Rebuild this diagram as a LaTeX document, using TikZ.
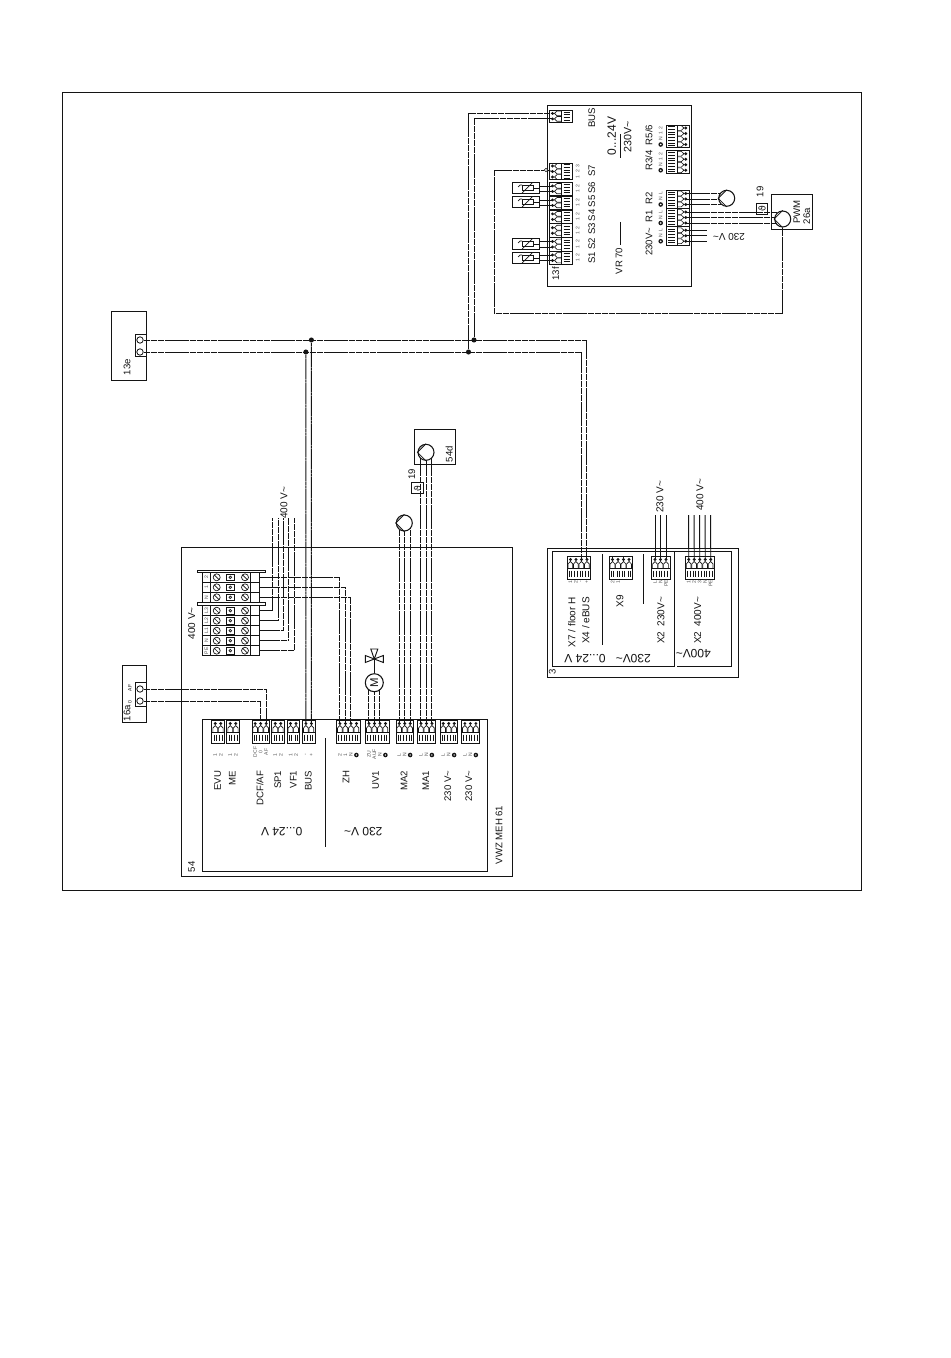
\documentclass[tikz,border=0pt]{standalone}
\usepackage{fontspec}
\setmainfont{Liberation Sans}
\newfontfamily\dejavu{DejaVu Sans}
\usetikzlibrary{calc}
\pgfdeclarelayer{bg}
\pgfsetlayers{bg,main}
\definecolor{ink}{HTML}{141414}
\definecolor{pale}{HTML}{555555}
\newcommand{\fs}[1]{\fontsize{#1}{#1}\selectfont}
\newcommand{\tld}{\textasciitilde}
\newcounter{lbl}
\tikzset{
  frame/.style={draw=ink,line width=0.7pt},
  thin part/.style={draw=ink,line width=0.5pt},
  wire/.style={draw=ink,line width=0.65pt,dash pattern=on 2.4pt off 0.25pt},
  feed/.style={draw=ink,line width=0.6pt},
  sep/.style={draw=ink,line width=0.7pt},
  jdot/.style={circle,fill=ink,inner sep=0pt,minimum size=3.8pt},
  ring/.style={circle,draw=ink,fill=white,line width=0.6pt,inner sep=0pt,minimum size=4.8pt},
  pumpc/.style={circle,draw=ink,fill=white,line width=0.8pt,inner sep=0pt,minimum size=12pt},
  motorc/.style={circle,draw=ink,fill=white,line width=0.8pt,inner sep=0pt,minimum size=13.5pt,font=\fs{8.5},text=ink},
  txt/.style={inner sep=0pt,text=ink,font=\fs{7.2}},
  vtxt/.style={txt,rotate=90},
  big/.style={vtxt,font=\fs{7.2}},
  wide/.style={vtxt,font=\fs{7.5}},
  flip/.style={txt,rotate=180,font=\fs{9}},
  tiny/.style={inner sep=0pt,text=pale,rotate=90,font=\fs{3.8}},
}
% labelled text with automatic names
\newcommand{\lab}[4][]{\stepcounter{lbl}\node[#2,#1] (lab\thelbl) at #3 {#4};}
% rectangular named box given by its corners in pixels
\newcommand{\boxn}[6][frame]{%
  \pgfmathsetmacro\bw{((#5)-(#3))*0.75}\pgfmathsetmacro\bh{((#6)-(#4))*0.75}%
  \pgfmathsetmacro\bx{((#3)+(#5))/2}\pgfmathsetmacro\by{((#4)+(#6))/2}%
  \node[#1,inner sep=0pt,outer sep=0pt,minimum width=\bw pt,minimum height=\bh pt] (#2) at (\bx,\by) {};}
% terminal block: name, x, y, length, pins, rotation
\newcommand{\term}[6]{%
  \begin{scope}[shift={(#2,#3)},rotate=#6]
    \draw[thin part] (0,0) rectangle (#4,12);
    \draw[thin part] (0,12) rectangle (#4,23);
    \pgfmathsetmacro\st{(#4-(#5-1)*5.5)/2}
    \foreach \i in {1,...,#5}{
      \pgfmathsetmacro\px{\st+(\i-1)*5.5}
      \coordinate (#1-\i) at (\px,3.5);
      \fill[ink] (\px,3.5) circle (1.6);
      \draw[thin part] (\px-2.4,12) -- (\px-2.4,8) -- (\px,5.5) -- (\px+2.4,8) -- (\px+2.4,12);
      \draw[thin part] (\px-1.2,14.5) -- (\px-1.2,21) (\px+1.2,14.5) -- (\px+1.2,21);
    }
  \end{scope}}
% pump: name, x, y
\newcommand{\pump}[3]{%
  \node[pumpc] (#1) at (#2,#3) {};
  \draw[thin part,line width=0.6pt] (#1.north) -- (#1.west) -- (#1.south);}
% sensor: name, centre y
\newcommand{\sensor}[2]{%
  \boxn{#1}{512.5}{#2-5.6}{539.7}{#2+5.6}
  \draw[thin part] ($(#1.center)+(-4,-2.4)$) rectangle ($(#1.center)+(7,2.4)$);
  \draw[thin part] ($(#1.center)+(7,0)$) -- (#1.east);
  \draw[thin part] ($(#1.center)+(-4,5)$) -- ($(#1.center)+(6,-5)$);
  \draw[thin part] ($(#1.center)+(-4,-3)$) -- ($(#1.center)+(-6,-3)$) -- ($(#1.center)+(-8,-1)$);}
% row of the 400 V strip: name, y, label
\newcommand{\trow}[3]{%
  \draw[frame] (202.7,#2) rectangle (259.3,#2+10);
  \draw[thin part] (210,#2) -- (210,#2+10) (250.7,#2) -- (250.7,#2+10);
  \lab{tiny}{(206.4,#2+5)}{#3}
  \draw[thin part] (216.7,#2+5) circle (3.5) (214.3,#2+2.6) -- (219.1,#2+7.4);
  \draw[thin part] (245,#2+5) circle (3.5) (242.6,#2+2.6) -- (247.4,#2+7.4);
  \draw[thin part] (226.4,#2+1.6) rectangle (234.2,#2+8.4);
  \draw[thin part] (230.3,#2+5) circle (1.3);
  \coordinate (#1) at (259.3,#2+5);}
% the 19 box
\newcommand{\nineteen}[5]{%
  \boxn[thin part]{#1}{#2}{#3}{#4}{#5}
  \lab{txt}{(#1.center)}{\rotatebox{90}{\dejavu\fs{7}ϑ}}}
\begin{document}
\begin{tikzpicture}[x=0.75pt,y=-0.75pt]
\useasboundingbox (0,0) rectangle (950,1358);
\begin{pgfonlayer}{bg}\fill[white] (0,0) rectangle (950,1358);\end{pgfonlayer}

% ---------- frames
\boxn{outer}{62}{92}{861}{890}
\boxn{vr}{547.7}{105}{691.7}{286}
\boxn{tx}{111.3}{311.7}{146.7}{380}
\boxn[thin part]{txi}{135.7}{334.7}{146.7}{356.7}
\boxn{af}{122.3}{665}{146.7}{722.7}
\boxn[thin part]{afi}{135}{682.7}{146.7}{706}
\boxn{meh}{181.7}{547.3}{512.3}{876.7}
\boxn{mehi}{202.3}{719}{487.7}{871.7}
\boxn{bfd}{414.3}{429.3}{455.3}{464.3}
\boxn{pwmb}{771.7}{194.3}{812.3}{229.3}
\boxn{hp}{547.3}{548.3}{738.3}{677.3}
\boxn{hpi}{552.3}{551}{674.7}{666}
\draw[frame] (hpi.north east) -- (731.7,551) -- (731.7,666) -- (677.3,666);

% ---------- VR 70 terminals, left strip
\term{vb}{549}{122.3}{12.3}{2}{90}
\term{s1}{549}{264.5}{13.5}{2}{90}
\term{s2}{549}{251}{13.5}{2}{90}
\term{s3}{549}{237.2}{13.5}{2}{90}
\term{s4}{549}{223.4}{13.5}{2}{90}
\term{s5}{549}{209.4}{13.5}{2}{90}
\term{s6}{549}{195.4}{13.5}{2}{90}
\term{s7}{549}{179.5}{16}{3}{90}
% VR 70 terminals, right strip
\term{r5}{689.3}{125.5}{21.5}{4}{-90}
\term{r3}{689.3}{150.5}{23}{4}{-90}
\term{r2}{689.3}{190}{18}{3}{-90}
\term{r1}{689.3}{208.5}{18}{3}{-90}
\term{vm}{689.3}{226.5}{18.5}{3}{-90}

% ---------- sensors
\sensor{se6}{188}
\sensor{se5}{202}
\sensor{se2}{244}
\sensor{se1}{258}

% ---------- VR 70 text
\lab{big}{(591.7,117.7)}{BUS}
\lab[font=\fs{9}]{vtxt}{(611.7,136)}{0...24V}
\lab[font=\fs{8}]{vtxt}{(627.7,136.7)}{230V\tld}
\lab{vtxt}{(555.7,274)}{13f}
\lab{vtxt}{(619,261)}{VR 70}
\draw[sep] (620,134) -- (620,158);
\draw[sep] (620,222) -- (620,245);
\foreach \t/\y in {S1/258,S2/244,S3/229,S4/215.5,S5/201.5,S6/188,S7/171}{\lab{vtxt}{(591.7,\y)}{\t}}
\foreach \g in {s1,s2,s3,s4,s5,s6,s7}{\foreach \p in {1,2}{\lab{tiny}{(577.5,0 |- \g-\p)}{\p}}}
\lab{tiny}{(577.5,0 |- s7-3)}{3}
\lab{vtxt}{(649,135)}{R5/6}
\lab{vtxt}{(649,160.7)}{R3/4}
\lab{vtxt}{(649,198)}{R2}
\lab{vtxt}{(649,216.7)}{R1}
\lab{vtxt}{(649,241.7)}{230V\tld}
\foreach \g in {r5,r3}{
  \lab{tiny}{(660.7,0 |- \g-1)}{2}
  \lab{tiny}{(660.7,0 |- \g-2)}{1}
  \lab{tiny}{(660.7,0 |- \g-3)}{N}
  \path (660.7,0 |- \g-4) coordinate (e\g);
  \fill[ink] (e\g) circle (2.3);\fill[white] (e\g) circle (0.8);
}
\foreach \g in {r2,r1,vm}{
  \lab{tiny}{(660.7,0 |- \g-1)}{L}
  \lab{tiny}{(660.7,0 |- \g-2)}{N}
  \path (660.7,0 |- \g-3) coordinate (e\g);
  \fill[ink] (e\g) circle (2.3);\fill[white] (e\g) circle (0.8);
}

% ---------- pumps and 19 boxes
\pump{pa}{726.7}{198.3}
\pump{pb}{782.7}{219}
\pump{pc}{426}{452.3}
\pump{pd}{404.3}{523}
\nineteen{nta}{756.7}{203.3}{767.3}{214.3}
\nineteen{ntb}{411.7}{482.7}{423.3}{493.7}
\lab{big}{(760,191.7)}{19}
\lab{big}{(411.7,474.3)}{19}
\lab{vtxt}{(796.7,212)}{PWM}
\lab{vtxt}{(806.7,216)}{26a}
\lab{vtxt}{(449.3,454.3)}{54d}
\lab[font=\fs{7.5}]{flip}{(729,236.7)}{230 V\tld}

% ---------- 13e and 16a
\node[ring] (te1) at (140,340) {};
\node[ring] (te2) at (140,352) {};
\node[ring] (ta1) at (140,689) {};
\node[ring] (ta2) at (140,701) {};
\lab{vtxt}{(127,367)}{13e}
\lab{vtxt}{(127,713)}{16a}
\lab[text=ink]{tiny}{(130,688)}{AF}
\lab[text=ink]{tiny}{(130,702)}{0}

% ---------- VWZ MEH terminals
\term{evu}{211.7}{720}{12.6}{2}{0}
\term{me}{226.7}{720}{12.6}{2}{0}
\term{dcf}{252.3}{720}{16.7}{3}{0}
\term{spo}{271.7}{720}{12.6}{2}{0}
\term{vfo}{287}{720}{12.6}{2}{0}
\term{bus}{302.3}{720}{12.7}{2}{0}
\term{zh}{336.3}{720}{23.7}{4}{0}
\term{uv}{365.3}{720}{23.7}{4}{0}
\term{mab}{396}{720}{17.3}{3}{0}
\term{maa}{417.5}{720}{17.8}{3}{0}
\term{ne}{440}{720}{17.3}{3}{0}
\term{nf}{461.7}{720}{17.3}{3}{0}
\draw[sep] (325.7,738) -- (325.7,847.3);
\foreach \g in {evu,me,spo,vfo}{\foreach \p in {1,2}{\lab{tiny}{(\g-\p |- 0,755)}{\p}}}
\lab{tiny}{(dcf-1 |- 0,752)}{DCF}
\lab{tiny}{(dcf-2 |- 0,752)}{0}
\lab{tiny}{(dcf-3 |- 0,752)}{AF}
\lab{tiny}{(bus-1 |- 0,755)}{-}
\lab{tiny}{(bus-2 |- 0,755)}{+}
\lab{tiny}{(zh-1 |- 0,755)}{2}
\lab{tiny}{(zh-2 |- 0,755)}{1}
\lab{tiny}{(zh-3 |- 0,755)}{N}
\lab{tiny}{(uv-1 |- 0,754)}{ZU}
\lab{tiny}{(uv-2 |- 0,754)}{AUF}
\lab{tiny}{(uv-3 |- 0,755)}{N}
\foreach \g in {mab,maa,ne,nf}{
  \lab{tiny}{(\g-1 |- 0,755)}{L}
  \lab{tiny}{(\g-2 |- 0,755)}{N}
  \path (\g-3 |- 0,755) coordinate (e\g);
  \fill[ink] (e\g) circle (2.3);\fill[white] (e\g) circle (0.8);
}
\path (zh-4 |- 0,755) coordinate (ezh);\fill[ink] (ezh) circle (2.3);\fill[white] (ezh) circle (0.8);
\path (uv-4 |- 0,755) coordinate (euv);\fill[ink] (euv) circle (2.3);\fill[white] (euv) circle (0.8);
\foreach \t/\x in {EVU/217.7,ME/232.3,SP1/277.7,VF1/293.3,BUS/308.3,ZH/346,UV1/375.7,MA2/404,MA1/425.7}{
  \lab[anchor=east]{vtxt}{(\x,770.5)}{\t}}
\lab[anchor=east]{vtxt}{(260,770.5)}{DCF/AF}
\lab[anchor=east]{vtxt}{(447.7,770.5)}{230 V\tld}
\lab[anchor=east]{vtxt}{(468.7,770.5)}{230 V\tld}
\lab{flip}{(281.7,831.7)}{0...24 V}
\lab{flip}{(363.3,831.7)}{230 V\tld}
\lab{vtxt}{(191.7,866.7)}{54}
\lab{vtxt}{(499,835)}{VWZ MEH 61}

% ---------- 400 V strip
\draw[frame] (197.3,570) rectangle (265,572.3);
\draw[frame] (197.3,602.7) rectangle (265,605);
\trow{ra}{572.3}{2}
\trow{rb}{582.3}{1}
\trow{rc}{592.3}{N}
\trow{rd}{605.7}{L3}
\trow{re}{615.7}{L2}
\trow{rf}{625.7}{L1}
\trow{rg}{635.7}{N}
\trow{rh}{645.7}{PE}
\lab[font=\fs{7.5}]{vtxt}{(191.7,623.3)}{400 V\tld}
\lab[font=\fs{7.5}]{vtxt}{(284,503)}{400 V\tld}
\coordinate (fa) at (272.3,518);
\coordinate (fb) at (278,518);
\coordinate (fc) at (283.3,518);
\coordinate (fd) at (288.7,518);
\coordinate (ff) at (294.3,518);

% ---------- motor and valve
\node[motorc] (motor) at (374.3,682.7) {\rotatebox{90}{M}};
\coordinate (valve) at (374.3,659);
\draw[frame] (valve) -- ++(-3.5,-10) -- ++(7,0) -- cycle;
\draw[frame] (valve) -- ++(-9,-3.5) -- ++(0,7) -- cycle;
\draw[frame] (valve) -- ++(9,-3.5) -- ++(0,7) -- cycle;
\draw[frame] (valve) -- (motor.north);

% ---------- box 3 terminals
\term{xa}{567.3}{556}{22.7}{4}{0}
\term{xb}{609.3}{556}{23}{4}{0}
\term{xc}{651}{556}{19}{3}{0}
\term{xd}{685.3}{556}{28.7}{5}{0}
\draw[thin part] (xb-1) -- ++(0,-3) -| (xb-3);
\draw[sep] (602.3,554) -- (602.3,645);
\draw[sep] (643.3,554) -- (643.3,604);
\lab{tiny}{(xa-1 |- 0,582)}{1}
\lab{tiny}{(xa-2 |- 0,582)}{2}
\lab{tiny}{(xa-3 |- 0,582)}{-}
\lab{tiny}{(xa-4 |- 0,582)}{+}
\lab{tiny}{(xb-1 |- 0,582)}{2}
\lab{tiny}{(xb-2 |- 0,582)}{1}
\lab{tiny}{(xc-1 |- 0,582)}{L}
\lab{tiny}{(xc-2 |- 0,582)}{N}
\lab{tiny}{(xc-3 |- 0,583)}{PE}
\lab{tiny}{(xd-1 |- 0,582)}{1}
\lab{tiny}{(xd-2 |- 0,582)}{2}
\lab{tiny}{(xd-3 |- 0,582)}{3}
\lab{tiny}{(xd-4 |- 0,582)}{N}
\lab{tiny}{(xd-5 |- 0,583)}{PE}
\lab[anchor=east]{wide}{(571.7,597)}{X7 / floor H}
\lab[anchor=east]{wide}{(585.7,597)}{X4 / eBUS}
\lab[anchor=east]{wide}{(620,595)}{X9}
\lab[anchor=east]{wide}{(661,596.7)}{X2\hspace{4pt}230V\tld}
\lab[anchor=east]{wide}{(697.7,596.7)}{X2\hspace{4pt}400V\tld}
\lab{flip}{(585,658.3)}{0...24 V}
\lab{flip}{(633.3,658.3)}{230V\tld}
\lab{flip}{(693.3,653.3)}{400V\tld}
\lab{vtxt}{(552.3,672.3)}{3}
\lab[font=\fs{7.5}]{vtxt}{(660,497)}{230 V\tld}
\lab[font=\fs{7.5}]{vtxt}{(700,495)}{400 V\tld}
\coordinate (ga) at (655,515);\coordinate (gb) at (660.5,515);\coordinate (gc) at (666,515);
\coordinate (ha) at (688.6,515);\coordinate (hb) at (694.1,515);\coordinate (hc) at (699.6,515);\coordinate (hd) at (705.1,515);\coordinate (he) at (710.6,515);

% ---------- junctions
\node[jdot] (ja) at (311.4,340) {};
\node[jdot] (jb) at (305.9,352) {};
\node[jdot] (jc) at (468.5,352) {};
\node[jdot] (jd) at (474,340) {};
\node[jdot,fill=white,draw=ink,line width=0.4pt,minimum size=2.6pt] (je) at (546,170) {};
\coordinate (dl) at (494.3,313.3);
\coordinate (wa) at (706.7,230);

% ---------- wires
\begin{pgfonlayer}{bg}
\draw[wire] (te1) -| (xa-4);
\draw[wire] (te2) -| (xa-3);
\draw[wire] (ja) -- (bus-2);
\draw[wire] (jb) -- (bus-1);
\draw[wire] (jc) |- (vb-2);
\draw[wire] (jd) |- (vb-1);
\draw[wire] (je) -| (dl) -| (pb.south);
\draw[wire] (je) -- (s7-2);
\draw[wire] (ta1) -| (dcf-3);
\draw[wire] (ta2) -| (dcf-2);
\draw[wire] (ra) -| (zh-1);
\draw[wire] (rb) -| (zh-2);
\draw[wire] (rc) -| (zh-3);
\draw[wire] (rd) -| (fa);
\draw[wire] (re) -| (fb);
\draw[wire] (rf) -| (fc);
\draw[wire] (rg) -| (fd);
\draw[wire] (rh) -| (ff);
\foreach \p in {1,2,3}{
  \draw[wire] (uv-\p) -- (uv-\p |- motor.center);
  \draw[wire] (mab-\p) -- (mab-\p |- pd.center);
  \draw[wire] (maa-\p) -- (maa-\p |- pc.center);
  \draw[wire] (r2-\p) -- (r2-\p -| pa.center);
  \draw[wire] (r1-\p) -- (r1-\p -| pb.center);
  \draw[feed] (vm-\p) -- (vm-\p -| wa);
}
\foreach \a/\b in {s1/se1,s2/se2,s5/se5,s6/se6}{\foreach \p in {1,2}{\draw[thin part,line width=0.5pt] (\a-\p) -- (\a-\p -| \b.east);}}
\draw[feed] (xc-1) -- (ga);\draw[feed] (xc-2) -- (gb);\draw[feed] (xc-3) -- (gc);
\draw[feed] (xd-1) -- (ha);\draw[feed] (xd-2) -- (hb);\draw[feed] (xd-3) -- (hc);\draw[feed] (xd-4) -- (hd);\draw[feed] (xd-5) -- (he);
\end{pgfonlayer}
\end{tikzpicture}
\end{document}
